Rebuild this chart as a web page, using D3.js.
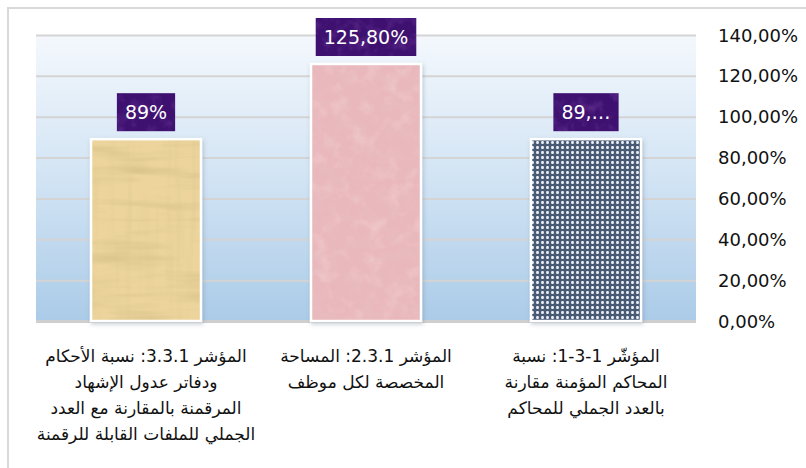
<!DOCTYPE html>
<html><head><meta charset="utf-8">
<script src="https://cdn.jsdelivr.net/npm/d3@7"></script>
<style>
html,body{margin:0;padding:0;background:#fff;}
svg{display:block;}
</style></head>
<body>
<svg id="chart" width="806" height="468"></svg>
<script>
// ---- data ----
const categories = [
  "المؤشّر 1-3-1: نسبة المحاكم المؤمنة مقارنة بالعدد الجملي للمحاكم",
  "المؤشر 2.3.1: المساحة المخصصة لكل موظف",
  "المؤشر 3.3.1: نسبة الأحكام ودفاتر عدول الإشهاد المرقمنة بالمقارنة مع العدد الجملي للملفات القابلة للرقمنة"
];
const categoryLines = [
  ["المؤشّر 1-3-1: نسبة", "المحاكم المؤمنة مقارنة", "بالعدد الجملي للمحاكم"],
  ["المؤشر 2.3.1: المساحة", "المخصصة لكل موظف"],
  ["المؤشر 3.3.1: نسبة الأحكام", "ودفاتر عدول الإشهاد", "المرقمنة بالمقارنة مع العدد", "الجملي للملفات القابلة للرقمنة"]
];
const values = [0.89, 1.258, 0.89];
const dataLabels = ["89,…", "125,80%", "89%"];
const tickValues = [0, 0.2, 0.4, 0.6, 0.8, 1.0, 1.2, 1.4];
const tickLabels = ["0,00%", "20,00%", "40,00%", "60,00%", "80,00%", "100,00%", "120,00%", "140,00%"];

// ---- layout ----
const svg = d3.select("#chart");
const plot = {left: 36, right: 696, top: 35, bottom: 321};

const x = d3.scaleBand().domain(categories).range([plot.right, plot.left])
  .paddingInner(0.5).paddingOuter(0.25);
const y = d3.scaleLinear().domain([0, 1.4]).range([plot.bottom, plot.top]);

const defs = svg.append("defs");

// background gradient
const bg = defs.append("linearGradient").attr("id", "bgGrad")
  .attr("x1", 0).attr("y1", 0).attr("x2", 0).attr("y2", 1);
bg.append("stop").attr("offset", "0%").attr("stop-color", "#f4f8fd");
bg.append("stop").attr("offset", "50%").attr("stop-color", "#d2e4f4");
bg.append("stop").attr("offset", "100%").attr("stop-color", "#abcbe8");

// shadow filter
const sh = defs.append("filter").attr("id", "shadow")
  .attr("x", "-20%").attr("y", "-20%").attr("width", "140%").attr("height", "140%");
sh.append("feDropShadow").attr("dx", 1).attr("dy", 2).attr("stdDeviation", 2)
  .attr("flood-color", "#5a6f85").attr("flood-opacity", 0.35);

// noise filter helper
function noiseFilter(id, freq, oct, seed, r, g, b, aScale, aOff) {
  const f = defs.append("filter").attr("id", id)
    .attr("x", 0).attr("y", 0).attr("width", 1).attr("height", 1);
  f.append("feTurbulence").attr("type", "fractalNoise")
    .attr("baseFrequency", freq).attr("numOctaves", oct).attr("seed", seed).attr("result", "n");
  f.append("feColorMatrix").attr("in", "n").attr("type", "matrix")
    .attr("values", `0 0 0 0 ${r}  0 0 0 0 ${g}  0 0 0 0 ${b}  ${aScale} 0 0 0 ${aOff}`)
    .attr("result", "c");
  f.append("feComposite").attr("in", "c").attr("in2", "SourceGraphic").attr("operator", "in");
}
noiseFilter("papyrusNoise", "0.012 0.09", 3, 4, 0.62, 0.48, 0.22, 1.2, -0.55);
noiseFilter("papyrusNoise2", "0.12 0.01", 2, 9, 0.70, 0.55, 0.28, 1.0, -0.52);
noiseFilter("marbleNoise", "0.08", 4, 3, 0.78, 0.55, 0.58, 0.8, -0.38);
noiseFilter("marbleLight", "0.06", 3, 7, 1.0, 0.86, 0.87, 0.7, -0.36);
noiseFilter("purpleNoise", "0.08", 3, 2, 0.40, 0.14, 0.60, 0.6, -0.28);

// dots pattern
const dots = defs.append("pattern").attr("id", "dots").attr("patternUnits", "userSpaceOnUse")
  .attr("width", 5).attr("height", 5);
dots.append("rect").attr("width", 5).attr("height", 5).attr("fill", "#4a5a75");
dots.append("rect").attr("x", 1.1).attr("y", 1.1).attr("width", 2.8).attr("height", 2.8)
  .attr("rx", 1).attr("fill", "#e9edf3");

// plot background
svg.append("rect").attr("x", plot.left).attr("y", plot.top)
  .attr("width", plot.right - plot.left).attr("height", plot.bottom - plot.top)
  .attr("fill", "url(#bgGrad)");

// outer border
svg.append("path").attr("d", "M8,470 L8,8 L810,8")
  .attr("fill", "none").attr("stroke", "#d9d9d9").attr("stroke-width", 2);

// gridlines
const grid = svg.append("g").attr("transform", `translate(${plot.left},0)`)
  .call(d3.axisRight(y).tickValues(tickValues).tickSize(plot.right - plot.left).tickFormat(""));
grid.select(".domain").remove();
grid.selectAll(".tick line").attr("stroke", "#d4d4d4").attr("stroke-width", 2);
grid.selectAll(".tick").filter(d => d === 0).select("line").attr("stroke", "#cfcfcf").attr("stroke-width", 3);

// y axis labels on the right
const yAxis = svg.append("g").attr("transform", `translate(714,0)`)
  .call(d3.axisRight(y).tickValues(tickValues).tickSize(0)
    .tickFormat((d, i) => tickLabels[i]));
yAxis.select(".domain").remove();
yAxis.selectAll("text").attr("font-family", "DejaVu Sans").attr("font-size", 18)
  .attr("fill", "#111").attr("x", 4).attr("dy", "0.34em");

// bars
const fills = ["url(#dots)", "#e9b8bc", "#ecd49c"];
const bars = svg.append("g").selectAll("g.bar").data(categories).join("g").attr("class", "bar");
bars.each(function (c, i) {
  const g = d3.select(this);
  const bx = x(c), bw = x.bandwidth(), by = y(values[i]), bh = y(0) - y(values[i]);
  g.append("rect").attr("x", bx).attr("y", by).attr("width", bw).attr("height", bh)
    .attr("fill", fills[i]).attr("stroke", "#ffffff").attr("stroke-width", 2.5)
    .attr("filter", "url(#shadow)");
  if (i === 2) {
    g.append("rect").attr("x", bx + 1.5).attr("y", by + 1.5).attr("width", bw - 3).attr("height", bh - 3)
      .attr("fill", "#fff").attr("filter", "url(#papyrusNoise)");
    g.append("rect").attr("x", bx + 1.5).attr("y", by + 1.5).attr("width", bw - 3).attr("height", bh - 3)
      .attr("fill", "#fff").attr("filter", "url(#papyrusNoise2)");
  } else if (i === 1) {
    g.append("rect").attr("x", bx + 1.5).attr("y", by + 1.5).attr("width", bw - 3).attr("height", bh - 3)
      .attr("fill", "#fff").attr("filter", "url(#marbleNoise)");
    g.append("rect").attr("x", bx + 1.5).attr("y", by + 1.5).attr("width", bw - 3).attr("height", bh - 3)
      .attr("fill", "#fff").attr("filter", "url(#marbleLight)");
  }
});

// data labels
const labels = svg.append("g").selectAll("g.lbl").data(categories).join("g").attr("class", "lbl");
labels.each(function (c, i) {
  const g = d3.select(this);
  const cx = x(c) + x.bandwidth() / 2;
  const bottom = y(values[i]) - 8;
  const box = g.append("rect");
  const boxTex = g.append("rect");
  const t = g.append("text").attr("x", cx).attr("y", bottom - 19)
    .attr("text-anchor", "middle").attr("dy", "0.36em")
    .attr("font-family", "DejaVu Sans").attr("font-size", 19).attr("fill", "#ffffff")
    .text(dataLabels[i]);
  const w = t.node().getComputedTextLength() + 16;
  box.attr("x", cx - w / 2).attr("y", bottom - 38).attr("width", w).attr("height", 38)
    .attr("fill", "#3e1170");
  boxTex.attr("x", cx - w / 2).attr("y", bottom - 38).attr("width", w).attr("height", 38)
    .attr("fill", "#fff").attr("filter", "url(#purpleNoise)");
});

// category labels
const cats = svg.append("g").selectAll("text.cat").data(categories).join("text").attr("class", "cat")
  .attr("text-anchor", "middle").attr("direction", "rtl")
  .attr("font-family", "DejaVu Sans").attr("font-size", 17).attr("fill", "#111")
  .attr("transform", d => `translate(${x(d) + x.bandwidth() / 2},${362})`);
cats.each(function (c, i) {
  d3.select(this).selectAll("tspan").data(categoryLines[i]).join("tspan")
    .attr("x", 0).attr("y", (d, k) => k * 26).text(d => d);
});
</script>
</body></html>
